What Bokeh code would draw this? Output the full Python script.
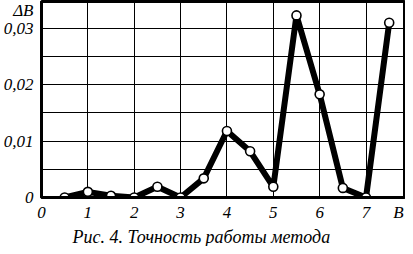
from bokeh.plotting import figure
from bokeh.models import FixedTicker, Range1d, Title
from bokeh.embed import file_html
from bokeh.resources import INLINE

# data
x_vals = [0.5, 1.0, 1.5, 2.0, 2.5, 3.0, 3.5, 4.0, 4.5, 5.0, 5.5, 6.0, 6.5, 7.0, 7.5]
dB_vals = [0.0, 0.001, 0.0003, 0.0, 0.0019, 0.0, 0.0034, 0.0118, 0.0082, 0.0019,
           0.0323, 0.0183, 0.0017, 0.0, 0.031]
x_ticks = [0, 1, 2, 3, 4, 5, 6, 7]
x_tick_labels = ["0", "1", "2", "3", "4", "5", "6", "7"]
y_ticks = [0, 0.01, 0.02, 0.03]
y_tick_labels = ["0", "0,01", "0,02", "0,03"]
y_minor = [0.005, 0.015, 0.025]
x_axis_name = "B"
y_axis_name = "ΔB"
caption = "Рис. 4. Точность работы метода"

FONT = "Liberation Serif"
B_POS = 7.7
DB_POS = 0.0332

p = figure(width=405, height=246, output_backend="svg", toolbar_location=None,
           x_range=Range1d(0, 7.83), y_range=Range1d(0, 0.03477),
           min_border_left=0, min_border_right=1, min_border_top=1, min_border_bottom=20)
p.background_fill_color = "white"
p.border_fill_color = "white"
p.outline_line_color = "black"
p.outline_line_width = 3

# axes
p.xaxis.ticker = FixedTicker(ticks=x_ticks + [B_POS])
ov = {t: l for t, l in zip(x_ticks, x_tick_labels)}
ov[B_POS] = x_axis_name
p.xaxis.major_label_overrides = ov
p.yaxis.ticker = FixedTicker(ticks=y_ticks + [DB_POS], minor_ticks=y_minor)
oy = {t: l for t, l in zip(y_ticks, y_tick_labels)}
oy[DB_POS] = y_axis_name
p.yaxis.major_label_overrides = oy
for ax in (p.xaxis, p.yaxis):
    ax.axis_line_width = 3
    ax.axis_line_color = "black"
    ax.major_tick_line_color = None
    ax.minor_tick_line_color = None
    ax.major_tick_out = 0
    ax.major_tick_in = 0
    ax.minor_tick_out = 0
    ax.minor_tick_in = 0
    ax.major_label_text_font = FONT
    ax.major_label_text_font_style = "italic"
    ax.major_label_text_font_size = "17px"
    ax.major_label_text_color = "black"
p.xaxis.major_label_standoff = 5
p.yaxis.major_label_standoff = 8

# grid
p.xgrid.ticker = FixedTicker(ticks=x_ticks[1:])
p.xgrid.grid_line_color = "black"
p.xgrid.grid_line_width = 1
p.xgrid.grid_line_alpha = 1
p.ygrid.ticker = FixedTicker(ticks=y_ticks[1:], minor_ticks=y_minor)
p.ygrid.grid_line_color = "black"
p.ygrid.grid_line_width = 1
p.ygrid.grid_line_alpha = 1
p.ygrid.minor_grid_line_color = "black"
p.ygrid.minor_grid_line_width = 1

# data
p.line(x_vals, dB_vals, line_color="black", line_width=6, line_join="round")
p.scatter(x_vals, dB_vals, size=9, fill_color="white", line_color="black", line_width=1.6)

# caption
p.add_layout(Title(text=caption, align="left", offset=31, standoff=0,
                   text_font=FONT, text_font_style="italic", text_font_size="18px",
                   text_color="black"), "below")

open("out.html", "w").write(file_html(p, INLINE))
